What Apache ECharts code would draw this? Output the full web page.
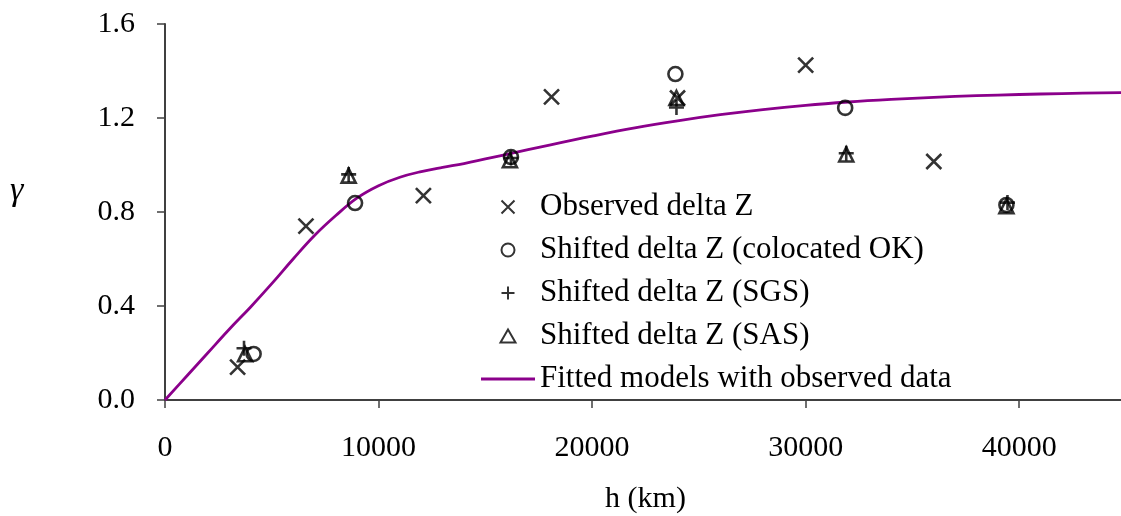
<!DOCTYPE html>
<html>
<head>
<meta charset="utf-8">
<script src="https://cdn.jsdelivr.net/npm/echarts@6/dist/echarts.min.js"></script>
<style>html,body{margin:0;padding:0;background:#fff}#c{width:1121px;height:516px}</style>
</head>
<body>
<div id="c"></div>
<script>
// Observed delta Z
const obsH = [3400, 6600, 12100, 18100, 24000, 30000, 36000];
const obsG = [0.14, 0.74, 0.87, 1.29, 1.285, 1.425, 1.015];
// Shifted delta Z (colocated OK)
const okH = [4150, 8900, 16200, 23900, 31850, 39400];
const okG = [0.196, 0.838, 1.034, 1.387, 1.243, 0.83];
// Shifted delta Z (SGS)
const sgsH = [3700, 8600, 16200, 23950, 31900, 39450];
const sgsG = [0.22, 0.96, 1.03, 1.245, 1.05, 0.84];
// Shifted delta Z (SAS)
const sasH = [3750, 8600, 16150, 23950, 31900, 39400];
const sasG = [0.195, 0.955, 1.02, 1.285, 1.045, 0.825];
// Fitted models with observed data
const fitH = [0,1000,2000,3000,4000,5000,6000,7000,8000,9000,10000,11000,12000,13000,14000,16000,18000,20000,22000,24000,26000,28000,30000,32000,34000,36000,38000,40000,42000,45000];
const fitG = [0,0.10,0.20,0.30,0.395,0.495,0.60,0.70,0.785,0.86,0.912,0.948,0.972,0.99,1.006,1.045,1.085,1.123,1.158,1.188,1.214,1.236,1.254,1.268,1.279,1.288,1.295,1.300,1.304,1.308];

const names = ['Observed delta Z','Shifted delta Z (colocated OK)','Shifted delta Z (SGS)','Shifted delta Z (SAS)','Fitted models with observed data'];
const xTicks = [0, 10000, 20000, 30000, 40000];
const yTicks = [0, 0.4, 0.8, 1.2, 1.6];

const zip = (a, b) => a.map((v, i) => [v, b[i]]);
const FONT = 'Liberation Serif';
const axisCol = '#404040';
const markStyle = { color: 'none', borderColor: '#000', borderWidth: 2.6 };
const CROSS = 'path://M0,0L10,10M10,0L0,10';
const PLUS = 'path://M5,0L5,10M0,5L10,5';
const TRI = 'path://M5,0L10,8.66L0,8.66Z';

const chart = echarts.init(document.getElementById('c'), null, { renderer: 'canvas' });
chart.setOption({
  animation: false,
  backgroundColor: '#fff',
  grid: { left: 165, right: -5, top: 24, bottom: 116, containLabel: false, outerBoundsMode: 'none' },
  graphic: [{
    type: 'text', left: 10, top: 174,
    style: { text: 'γ', font: 'italic 34px "Liberation Serif"', fill: '#000' }
  }],
  legend: {
    orient: 'vertical',
    left: 476,
    top: 185,
    itemWidth: 54,
    itemHeight: 13,
    itemGap: 9,
    textStyle: { fontFamily: FONT, fontSize: 31, color: '#000', lineHeight: 34 },
    data: [
      { name: names[0] },
      { name: names[1] },
      { name: names[2] },
      { name: names[3] },
      { name: names[4], icon: 'path://M0,0L54,0L54,2.8L0,2.8Z', itemStyle: { color: '#8B008B', borderWidth: 0 } }
    ]
  },
  xAxis: {
    type: 'value',
    min: xTicks[0],
    max: 45000,
    interval: 10000,
    name: 'h (km)',
    nameLocation: 'middle',
    nameGap: 84,
    nameTextStyle: { fontFamily: FONT, fontSize: 30, color: '#000' },
    axisLine: { show: true, onZero: false, lineStyle: { color: axisCol, width: 2 } },
    axisTick: { show: true, inside: false, length: 8, lineStyle: { color: axisCol, width: 1.5 } },
    axisLabel: { fontFamily: FONT, fontSize: 30, color: '#000', margin: 33, showMaxLabel: false, formatter: v => String(v) },
    splitLine: { show: false }
  },
  yAxis: {
    type: 'value',
    min: yTicks[0],
    max: yTicks[yTicks.length - 1],
    interval: 0.4,
    axisLine: { show: true, onZero: false, lineStyle: { color: axisCol, width: 2 } },
    axisTick: { show: true, inside: false, length: 8, lineStyle: { color: axisCol, width: 1.5 } },
    axisLabel: { fontFamily: FONT, fontSize: 30, color: '#000', margin: 30, formatter: v => v.toFixed(1) },
    splitLine: { show: false }
  },
  series: [
    { name: names[0], type: 'scatter', data: zip(obsH, obsG), symbol: CROSS, symbolSize: 15, itemStyle: markStyle, z: 3 },
    { name: names[1], type: 'scatter', data: zip(okH, okG), symbol: 'circle', symbolSize: 14, itemStyle: markStyle, z: 3 },
    { name: names[2], type: 'scatter', data: zip(sgsH, sgsG), symbol: PLUS, symbolSize: 15, itemStyle: markStyle, z: 3 },
    { name: names[3], type: 'scatter', data: zip(sasH, sasG), symbol: TRI, symbolSize: 14, itemStyle: markStyle, z: 3 },
    { name: names[4], type: 'line', data: zip(fitH, fitG), smooth: 0.4, showSymbol: false, symbol: 'none',
      lineStyle: { color: '#8B008B', width: 2.8 }, itemStyle: { color: '#8B008B' }, z: 2 }
  ]
});
</script>
</body>
</html>
